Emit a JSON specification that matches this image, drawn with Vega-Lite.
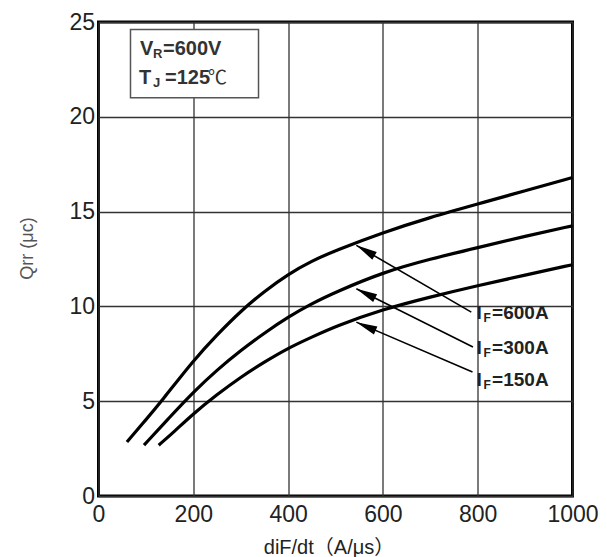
{
  "$schema": "https://vega.github.io/schema/vega-lite/v6.json",
  "width": 474,
  "height": 474,
  "autosize": {"type": "none"},
  "padding": {"left": 98.5, "top": 22, "right": 34.5, "bottom": 61},
  "background": "white",
  "config": {
    "font": "Liberation Sans",
    "view": {"stroke": "#000", "strokeWidth": 3},
    "axis": {
      "grid": true,
      "gridColor": "#333",
      "gridWidth": 1.3,
      "gridOpacity": 1,
      "domain": false,
      "ticks": false,
      "labelFont": "Liberation Sans",
      "labelFontSize": 23,
      "labelColor": "#222",
      "titleFont": "Liberation Sans, Noto Sans CJK SC",
      "titleFontWeight": "normal"
    }
  },
  "datasets": {
    "curves": [
      {"series": "600A", "x": 60, "y": 2.85},
      {"series": "600A", "x": 100, "y": 4.02},
      {"series": "600A", "x": 133, "y": 5.0},
      {"series": "600A", "x": 200, "y": 7.15},
      {"series": "600A", "x": 250, "y": 8.5},
      {"series": "600A", "x": 300, "y": 9.75},
      {"series": "600A", "x": 350, "y": 10.8},
      {"series": "600A", "x": 400, "y": 11.7},
      {"series": "600A", "x": 450, "y": 12.4},
      {"series": "600A", "x": 500, "y": 12.95},
      {"series": "600A", "x": 600, "y": 13.9},
      {"series": "600A", "x": 700, "y": 14.7},
      {"series": "600A", "x": 800, "y": 15.4},
      {"series": "600A", "x": 900, "y": 16.1},
      {"series": "600A", "x": 1000, "y": 16.8},
      {"series": "300A", "x": 96, "y": 2.68},
      {"series": "300A", "x": 150, "y": 4.15},
      {"series": "300A", "x": 200, "y": 5.48},
      {"series": "300A", "x": 250, "y": 6.65},
      {"series": "300A", "x": 300, "y": 7.68},
      {"series": "300A", "x": 350, "y": 8.6},
      {"series": "300A", "x": 400, "y": 9.44},
      {"series": "300A", "x": 450, "y": 10.15},
      {"series": "300A", "x": 500, "y": 10.75},
      {"series": "300A", "x": 600, "y": 11.8},
      {"series": "300A", "x": 700, "y": 12.5},
      {"series": "300A", "x": 800, "y": 13.1},
      {"series": "300A", "x": 900, "y": 13.7},
      {"series": "300A", "x": 1000, "y": 14.25},
      {"series": "150A", "x": 127, "y": 2.68},
      {"series": "150A", "x": 160, "y": 3.4},
      {"series": "150A", "x": 200, "y": 4.34},
      {"series": "150A", "x": 250, "y": 5.35},
      {"series": "150A", "x": 300, "y": 6.27},
      {"series": "150A", "x": 350, "y": 7.07},
      {"series": "150A", "x": 400, "y": 7.8},
      {"series": "150A", "x": 450, "y": 8.38},
      {"series": "150A", "x": 500, "y": 8.95},
      {"series": "150A", "x": 600, "y": 9.85},
      {"series": "150A", "x": 700, "y": 10.5},
      {"series": "150A", "x": 800, "y": 11.1},
      {"series": "150A", "x": 900, "y": 11.65},
      {"series": "150A", "x": 1000, "y": 12.2}
    ],
    "arrows": [
      {"series": "600A", "x0": 786.5, "y0": 9.7, "x1": 544, "y1": 13.22, "ang": 300},
      {"series": "300A", "x0": 790, "y0": 7.86, "x1": 544, "y1": 10.93, "ang": 296.6},
      {"series": "150A", "x0": 789, "y0": 6.54, "x1": 544, "y1": 9.17, "ang": 293.3}
    ],
    "labels": [
      {"series": "600A", "x": 797.7, "y": 9.63, "rest": "=600A"},
      {"series": "300A", "x": 797.7, "y": 7.78, "rest": "=300A"},
      {"series": "150A", "x": 797.7, "y": 6.1, "rest": "=150A"}
    ],
    "box": [
      {"x1": 67.5, "x2": 337.6, "y1": 21.0, "y2": 24.6, "tx": 87.5, "ty": 23.6}
    ]
  },
  "layer": [
    {
      "data": {"name": "box"},
      "mark": {"type": "rect", "fill": "white", "stroke": "#555", "strokeWidth": 1.5},
      "encoding": {
        "x": {"field": "x1", "type": "quantitative", "scale": {"domain": [0, 1000], "nice": false},
          "axis": {"values": [0, 200, 400, 600, 800, 1000], "format": "d", "labelFlush": false, "labelPadding": 7,
            "title": "diF/dt（A/μs）", "titleFontSize": 20, "titleColor": "#222",
            "titleX": 230, "titleY": 51, "titleAlign": "center", "titleBaseline": "middle"}},
        "x2": {"field": "x2"},
        "y": {"field": "y1", "type": "quantitative", "scale": {"domain": [0, 25], "nice": false},
          "axis": {"values": [0, 5, 10, 15, 20, 25], "format": "d", "labelPadding": 4, "labelBaseline": "middle",
            "title": "Qrr (μc)", "titleFontSize": 18, "titleColor": "#555",
            "titleX": -71, "titleY": 226, "titleAlign": "center", "titleBaseline": "middle", "titleAngle": -90}},
        "y2": {"field": "y2"}
      }
    },
    {
      "data": {"name": "curves"},
      "mark": {"type": "line", "color": "#000", "strokeWidth": 3.2, "interpolate": "basis"},
      "encoding": {
        "x": {"field": "x", "type": "quantitative", "scale": {"domain": [0, 1000], "nice": false}},
        "y": {"field": "y", "type": "quantitative", "scale": {"domain": [0, 25], "nice": false}},
        "detail": {"field": "series"}
      }
    },
    {
      "data": {"name": "arrows"},
      "mark": {"type": "rule", "color": "#000", "strokeWidth": 1.6},
      "encoding": {
        "x": {"field": "x0", "type": "quantitative", "scale": {"domain": [0, 1000], "nice": false}},
        "y": {"field": "y0", "type": "quantitative", "scale": {"domain": [0, 25], "nice": false}},
        "x2": {"field": "x1"},
        "y2": {"field": "y1"}
      }
    },
    {
      "data": {"name": "arrows"},
      "mark": {"type": "point", "shape": "M0,0L0.21,1L-0.21,1Z", "filled": true, "color": "#000", "opacity": 1, "size": 1764},
      "encoding": {
        "x": {"field": "x1", "type": "quantitative", "scale": {"domain": [0, 1000], "nice": false}},
        "y": {"field": "y1", "type": "quantitative", "scale": {"domain": [0, 25], "nice": false}},
        "angle": {"field": "ang", "type": "quantitative", "scale": null}
      }
    },
    {
      "data": {"name": "labels"},
      "mark": {"type": "text", "text": "I", "align": "left", "baseline": "middle", "fontSize": 19, "fontWeight": "bold", "color": "#222"},
      "encoding": {
        "x": {"field": "x", "type": "quantitative"},
        "y": {"field": "y", "type": "quantitative"}
      }
    },
    {
      "data": {"name": "labels"},
      "mark": {"type": "text", "text": "F", "align": "left", "baseline": "middle", "fontSize": 12, "fontWeight": "bold", "color": "#222", "dx": 7, "dy": 5},
      "encoding": {
        "x": {"field": "x", "type": "quantitative"},
        "y": {"field": "y", "type": "quantitative"}
      }
    },
    {
      "data": {"name": "labels"},
      "mark": {"type": "text", "align": "left", "baseline": "middle", "fontSize": 19, "fontWeight": "bold", "color": "#222", "dx": 15.5},
      "encoding": {
        "x": {"field": "x", "type": "quantitative"},
        "y": {"field": "y", "type": "quantitative"},
        "text": {"field": "rest"}
      }
    },
    {
      "data": {"name": "box"},
      "layer": [
        {"mark": {"type": "text", "text": "V", "align": "left", "baseline": "middle", "fontSize": 20, "fontWeight": "bold", "color": "#333"}},
        {"mark": {"type": "text", "text": "R", "align": "left", "baseline": "middle", "fontSize": 13, "fontWeight": "bold", "color": "#333", "dx": 13, "dy": 5}},
        {"mark": {"type": "text", "text": "=600V", "align": "left", "baseline": "middle", "fontSize": 20, "fontWeight": "bold", "color": "#333", "dx": 23}},
        {"mark": {"type": "text", "text": "T", "align": "left", "baseline": "middle", "fontSize": 20, "fontWeight": "bold", "color": "#333", "dx": -1, "dy": 29}},
        {"mark": {"type": "text", "text": "J", "align": "left", "baseline": "middle", "fontSize": 13, "fontWeight": "bold", "color": "#333", "dx": 13, "dy": 34}},
        {"mark": {"type": "text", "text": "=125", "align": "left", "baseline": "middle", "fontSize": 20, "fontWeight": "bold", "color": "#333", "dx": 25, "dy": 29}},
        {"mark": {"type": "text", "text": "℃", "align": "left", "baseline": "middle", "fontSize": 19, "font": "Noto Sans CJK SC", "color": "#333", "dx": 68, "dy": 29}}
      ],
      "encoding": {
        "x": {"field": "tx", "type": "quantitative"},
        "y": {"field": "ty", "type": "quantitative"}
      }
    }
  ]
}
